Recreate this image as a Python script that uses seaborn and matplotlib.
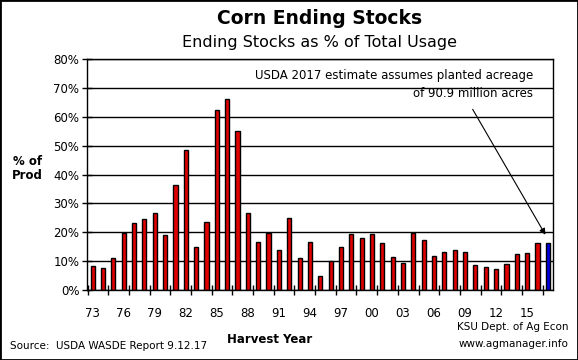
import pandas as pd
import matplotlib
matplotlib.use('Agg')
import matplotlib.pyplot as plt
import seaborn as sns

# Harvest years 1973-2017 and ending stocks as % of total usage
years = ['73', '74', '75', '76', '77', '78', '79', '80', '81', '82', '83', '84',
         '85', '86', '87', '88', '89', '90', '91', '92', '93', '94', '95', '96',
         '97', '98', '99', '00', '01', '02', '03', '04', '05', '06', '07', '08',
         '09', '10', '11', '12', '13', '14', '15', '16', '17']
stocks_pct = [8.2, 7.5, 11.0, 19.9, 23.1, 24.5, 26.6, 18.9, 36.3, 48.4, 14.8, 23.4,
              62.2, 66.1, 55.0, 26.6, 16.5, 19.7, 13.7, 24.8, 11.0, 16.5, 4.7, 9.9,
              14.8, 19.3, 17.9, 19.3, 16.2, 11.3, 9.2, 19.9, 17.2, 11.7, 13.2, 13.7,
              13.2, 8.6, 7.9, 7.2, 8.9, 12.4, 12.8, 16.2, 16.2]
kind = ['actual'] * 44 + ['estimate']
tick_labels = years[::3]

df = pd.DataFrame({'year': years, 'pct': stocks_pct, 'kind': kind})

sns.set_style('white')
plt.rcParams['font.family'] = ['DejaVu Sans']
plt.rcParams['text.color'] = 'black'
plt.rcParams['xtick.color'] = 'black'
plt.rcParams['ytick.color'] = 'black'

fig = plt.figure(figsize=(5.78, 3.6), dpi=100)
ax = fig.add_axes([87 / 578, 70 / 360, 466 / 578, 231 / 360])

sns.barplot(data=df, x='year', y='pct', hue='kind', dodge=False, width=0.4,
            palette={'actual': '#e00000', 'estimate': '#0000e0'}, saturation=1,
            edgecolor='black', linewidth=1, legend=False, ax=ax)

ax.set_ylim(0, 80)
ax.set_xlim(-0.55, 44.5)
ax.set_yticks(range(0, 81, 10))
ax.set_yticklabels([f'{v}%' for v in range(0, 81, 10)], fontsize=8.5)
ax.yaxis.grid(True, color='black', linewidth=1)
ax.set_axisbelow(True)
ax.tick_params(axis='y', direction='inout', length=7, width=1, left=True, pad=2)

# tick marks between every second bar, labels every third year
ax.set_xticks([-0.5 + 2 * k for k in range(23)])
ax.set_xticklabels([])
ax.tick_params(axis='x', which='major', direction='inout', length=7, width=1, bottom=True)
ax.set_xticks(list(range(0, 45, 3)), minor=True)
ax.set_xticklabels(tick_labels, minor=True, fontsize=8.5)
ax.tick_params(axis='x', which='minor', length=0, pad=12)

for s in ax.spines.values():
    s.set_color('black')
    s.set_linewidth(1)

ax.set_xlabel('')
ax.set_ylabel('')

fig.text(0.553, 0.948, 'Corn Ending Stocks', ha='center', va='center',
         fontsize=13.5, fontweight='bold')
fig.text(0.553, 0.883, 'Ending Stocks as % of Total Usage', ha='center', va='center',
         fontsize=11.5)
fig.text(0.047, 0.533, '% of\nProd', ha='center', va='center', fontsize=8.5,
         fontweight='bold', linespacing=1.1)
fig.text(0.467, 0.058, 'Harvest Year', ha='center', va='center', fontsize=8.5,
         fontweight='bold')
fig.text(0.017, 0.04, 'Source:  USDA WASDE Report 9.12.17', ha='left', va='center',
         fontsize=7.5)
fig.text(0.983, 0.092, 'KSU Dept. of Ag Econ', ha='right', va='center', fontsize=7.5)
fig.text(0.983, 0.044, 'www.agmanager.info', ha='right', va='center', fontsize=7.5)

ax.text(42.6, 74.3, 'USDA 2017 estimate assumes planted acreage', ha='right',
        va='center', fontsize=8.5)
ax.text(42.6, 68.1, 'of 90.9 million acres', ha='right', va='center', fontsize=8.5)
ax.annotate('', xy=(43.9, 18.3), xytext=(36.6, 63.4),
            arrowprops=dict(arrowstyle='-|>', color='black', lw=0.8,
                            mutation_scale=9))

fig.patches.append(plt.Rectangle((0, 0), 1, 1, transform=fig.transFigure,
                                 fill=False, edgecolor='black', linewidth=2))

fig.savefig('out.png', dpi=100)
